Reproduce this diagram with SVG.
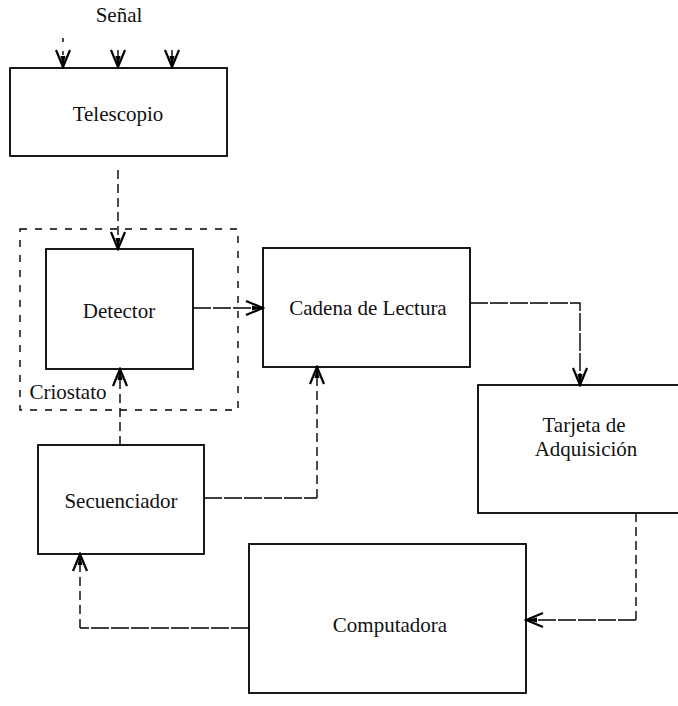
<svg xmlns="http://www.w3.org/2000/svg" width="678" height="706" viewBox="0 0 678 706">
  <style>
    .box { fill: #fff; stroke: #000; stroke-width: 1.8; }
    .lbl { font-family: "Liberation Serif", "Times New Roman", serif; font-size: 21px; fill: #111; text-anchor: middle; }
    .wire { fill: none; stroke: #000; stroke-width: 1.4; }
    .solid { stroke-dasharray: 18 2; }
    .dash { stroke-dasharray: 9 5; }
    .sparse { stroke-dasharray: 4 9; }
    .cryo { fill: none; stroke: #000; stroke-width: 1.4; stroke-dasharray: 7 8; }
  </style>
  <defs>
    <marker id="head" viewBox="-18 -9 20 18" refX="0" refY="0" markerWidth="20" markerHeight="18" markerUnits="userSpaceOnUse" orient="auto">
      <path d="M-17,-7 L0,0 L-17,7" fill="none" stroke="#000" stroke-width="2.2"/>
      <path d="M-11,-2.5 L0,0 L-11,2.5 Z" fill="#000"/>
    </marker>
  </defs>

  <rect width="678" height="706" fill="#fff"/>

  <!-- cryostat enclosure -->
  <g id="criostato">
    <rect class="cryo" x="20" y="229" width="218" height="181"/>
    <text class="lbl" x="68" y="399" font-size="20">Criostato</text>
  </g>

  <g id="senal">
    <text class="lbl" x="119" y="22">Señal</text>
  </g>

  <g id="telescopio">
    <rect class="box" x="10" y="68" width="217" height="88"/>
    <text class="lbl" x="118" y="121">Telescopio</text>
  </g>

  <g id="detector">
    <rect class="box" x="46" y="249" width="147" height="120"/>
    <text class="lbl" x="119" y="318">Detector</text>
  </g>

  <g id="cadena">
    <rect class="box" x="263" y="248" width="207" height="119"/>
    <text class="lbl" x="368" y="315">Cadena de Lectura</text>
  </g>

  <g id="tarjeta">
    <rect class="box" x="478" y="385" width="212" height="128"/>
    <text class="lbl" x="584" y="432">Tarjeta de</text>
    <text class="lbl" x="586" y="456">Adquisición</text>
  </g>

  <g id="secuenciador">
    <rect class="box" x="38" y="445" width="166" height="109"/>
    <text class="lbl" x="121" y="508">Secuenciador</text>
  </g>

  <g id="computadora">
    <rect class="box" x="249" y="544" width="277" height="149"/>
    <text class="lbl" x="390" y="632">Computadora</text>
  </g>

  <g id="connectors">
    <!-- incoming signal -->
    <path class="wire sparse" d="M63,38 L63,67" marker-end="url(#head)"/>
    <path class="wire" d="M118,50 L118,67" marker-end="url(#head)"/>
    <path class="wire" d="M172,50 L172,67" marker-end="url(#head)"/>
    <!-- telescope to detector -->
    <path class="wire dash" d="M118,170 L118,249" marker-end="url(#head)"/>
    <!-- detector to readout chain -->
    <path class="wire solid" d="M193,308 L263,308" marker-end="url(#head)"/>
    <!-- readout chain to acquisition card -->
    <path class="wire solid" d="M470,303 L580,303 L580,385" marker-end="url(#head)"/>
    <!-- acquisition card to computer -->
    <path class="wire dash" d="M636,513 L636,620"/>
    <path class="wire solid" d="M636,620 L526,620" marker-end="url(#head)"/>
    <!-- computer to sequencer -->
    <path class="wire solid" d="M249,628 L80,628"/>
    <path class="wire dash" d="M80,628 L80,554" marker-end="url(#head)"/>
    <!-- sequencer to readout chain -->
    <path class="wire solid" d="M204,498 L317,498"/>
    <path class="wire dash" d="M317,498 L317,367" marker-end="url(#head)"/>
    <!-- sequencer to detector -->
    <path class="wire dash" d="M120,445 L120,369" marker-end="url(#head)"/>
  </g>
</svg>
